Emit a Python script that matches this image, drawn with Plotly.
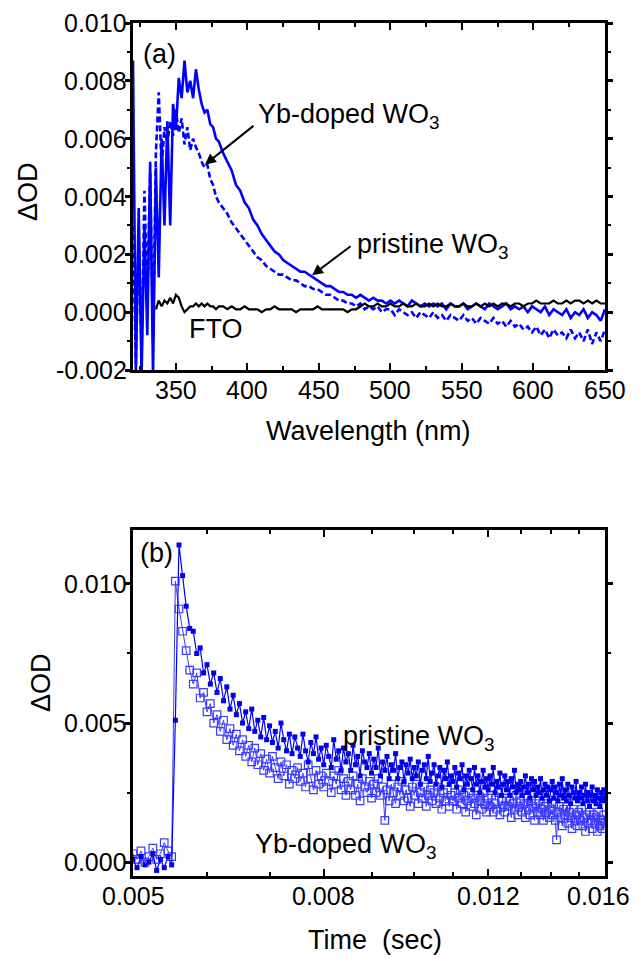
import math
import plotly.graph_objects as go

# ---------------- Panel (a): transient absorption spectra ----------------
wavelength_nm = [
    320, 322, 324, 326, 328, 330, 332, 334, 336, 338,
    340, 342, 344, 346, 348, 350, 352, 354, 356, 358,
    360, 362, 364, 366, 368, 370, 372, 374, 376, 378, 380,
    383, 386, 389, 392, 395, 398, 401, 404, 407, 410,
    413, 416, 419, 422, 425, 428, 431, 434, 437, 440,
    443, 446, 449, 452, 455, 458, 461, 464, 467, 470,
    473, 476, 479, 482, 485, 488, 491, 494, 497, 500,
    503, 506, 509, 512, 515, 518, 521, 524, 527, 530,
    533, 536, 539, 542, 545, 548, 551, 554, 557, 560,
    563, 566, 569, 572, 575, 578, 581, 584, 587, 590,
    593, 596, 599, 602, 605, 608, 611, 614, 617, 620,
    623, 626, 629, 632, 635, 638, 641, 644, 647, 650,
]

pristine_spec = [
    0.0087, -0.0021, 0.0036, -0.0022, 0.0030, -0.0008, 0.0052, -0.0022, 0.0050, 0.0012,
    0.0060, 0.0030, 0.0066, 0.0030, 0.0072, 0.0063, 0.0081, 0.0074, 0.0087, 0.0076,
    0.0080, 0.0074, 0.0084, 0.0077, 0.0072, 0.0069, 0.0070, 0.0065, 0.0064, 0.0060, 0.0059,
    0.0055, 0.0052, 0.0049, 0.0044, 0.0042, 0.0038, 0.0036, 0.0032, 0.0030, 0.0027,
    0.0025, 0.0023, 0.0021, 0.0020, 0.0018, 0.0017, 0.0016, 0.0015, 0.0014, 0.0014,
    0.0013, 0.0012, 0.0011, 0.0010, 0.0009, 0.0009, 0.0008, 0.0007, 0.0007, 0.0006,
    0.0006, 0.0005, 0.0006, 0.0005, 0.0004, 0.0005, 0.0004, 0.0004, 0.0003, 0.0004,
    0.0003, 0.0004, 0.0003, 0.0002, 0.0004, 0.0003, 0.0002, 0.0003, 0.0002, 0.0003,
    0.0002, 0.0003, 0.0001, 0.0003, 0.0002, 0.0002, 0.0003, 0.0001, 0.0002, 0.0003,
    0.0002, 0.0001, 0.0003, 0.0002, 0.0001, 0.0002, 0.0003, 0.0001, 0.0002, 0.0001,
    0.0002, 0.0000, 0.0002, 0.0001, 0.0000, 0.0002, -0.0001, 0.0001, 0.0000, -0.0001,
    0.0001, -0.0002, 0.0000, -0.0001, 0.0001, -0.0002, 0.0000, -0.0001, -0.0003, 0.0001,
]

yb_doped_spec = [
    0.0030, -0.0018, 0.0028, -0.0015, 0.0042, 0.0005, 0.0048, -0.0010, 0.0055, 0.0076,
    0.0050, 0.0064, 0.0058, 0.0066, 0.0061, 0.0070, 0.0062, 0.0067, 0.0058, 0.0064,
    0.0056, 0.0060, 0.0057, 0.0055, 0.0052, 0.0050, 0.0051, 0.0046, 0.0044, 0.0040, 0.0038,
    0.0036, 0.0034, 0.0031, 0.0029, 0.0027, 0.0025, 0.0023, 0.0021, 0.0019, 0.0018,
    0.0016, 0.0015, 0.0014, 0.0013, 0.0013, 0.0012, 0.0011, 0.0011, 0.0010, 0.0009,
    0.0009, 0.0008, 0.0008, 0.0007, 0.0006, 0.0006, 0.0005, 0.0004, 0.0004, 0.0003,
    0.0003, 0.0002, 0.0003, 0.0001, 0.0002, 0.0001, 0.0002, 0.0000, 0.0001, 0.0001,
    -0.0001, 0.0001, 0.0000, -0.0001, 0.0000, -0.0002, 0.0000, -0.0001, -0.0002, 0.0000,
    -0.0002, -0.0001, -0.0003, -0.0001, -0.0002, -0.0003, -0.0001, -0.0003, -0.0002, -0.0004,
    -0.0002, -0.0003, -0.0004, -0.0002, -0.0004, -0.0003, -0.0005, -0.0003, -0.0005, -0.0004,
    -0.0006, -0.0005, -0.0007, -0.0005, -0.0008, -0.0006, -0.0009, -0.0006, -0.0008, -0.0007,
    -0.0009, -0.0006, -0.0009, -0.0007, -0.0010, -0.0006, -0.0011, -0.0007, -0.0010, -0.0006,
]

fto_spec = [
    None, None, None, None, None, None, None, None, 0.0001, 0.0004,
    0.0002, 0.0004, 0.0003, 0.0005, 0.0003, 0.0006, 0.0005, 0.0002, 0.0000, 0.0001,
    0.0002, 0.0002, 0.0003, 0.0002, 0.0003, 0.0002, 0.0003, 0.0002, 0.0002, 0.0001, 0.0002,
    0.0002, 0.0001, 0.0002, 0.0001, 0.0001, 0.0002, 0.0001, 0.0001, 0.0001, 0.0000,
    0.0001, 0.0001, 0.0002, 0.0001, 0.0001, 0.0001, 0.0001, 0.0000, 0.0001, 0.0001,
    0.0001, 0.0001, 0.0002, 0.0001, 0.0001, 0.0001, 0.0001, 0.0001, 0.0001, 0.0000,
    0.0001, 0.0001, 0.0002, 0.0003, 0.0002, 0.0002, 0.0003, 0.0002, 0.0002, 0.0003,
    0.0002, 0.0002, 0.0003, 0.0002, 0.0002, 0.0003, 0.0002, 0.0002, 0.0003, 0.0002,
    0.0003, 0.0002, 0.0002, 0.0003, 0.0002, 0.0002, 0.0003, 0.0002, 0.0002, 0.0003,
    0.0002, 0.0003, 0.0002, 0.0003, 0.0002, 0.0003, 0.0003, 0.0002, 0.0003, 0.0003,
    0.0002, 0.0003, 0.0003, 0.0004, 0.0003, 0.0003, 0.0003, 0.0004, 0.0003, 0.0003,
    0.0004, 0.0003, 0.0004, 0.0004, 0.0003, 0.0004, 0.0003, 0.0004, 0.0003, 0.0003,
]

# ---------------- Panel (b): decay kinetics ----------------
time_s = [
    0.00500, 0.00505, 0.00510, 0.00515, 0.00520, 0.00525, 0.00530, 0.00535, 0.00540, 0.00545,
    0.00550, 0.00555, 0.00560, 0.00565, 0.00570, 0.00575, 0.00580, 0.00585, 0.00590, 0.00595,
    0.00600, 0.00605, 0.00610, 0.00615, 0.00620, 0.00625, 0.00630, 0.00635, 0.00640, 0.00645,
    0.00650, 0.00655, 0.00660, 0.00665, 0.00670, 0.00675, 0.00680, 0.00685, 0.00690, 0.00695,
    0.00700, 0.00705, 0.00710, 0.00715, 0.00720, 0.00725, 0.00730, 0.00735, 0.00740, 0.00745,
    0.00750, 0.00755, 0.00760, 0.00765, 0.00770, 0.00775, 0.00780, 0.00785, 0.00790, 0.00795,
    0.00800, 0.00805, 0.00810, 0.00815, 0.00820, 0.00825, 0.00830, 0.00835, 0.00840, 0.00845,
    0.00850, 0.00855, 0.00860, 0.00865, 0.00870, 0.00875, 0.00880, 0.00885, 0.00890, 0.00895,
    0.00900, 0.00905, 0.00910, 0.00915, 0.00920, 0.00925, 0.00930, 0.00935, 0.00940, 0.00945,
    0.00950, 0.00955, 0.00960, 0.00965, 0.00970, 0.00975, 0.00980, 0.00985, 0.00990, 0.00995,
    0.01000, 0.01005, 0.01010, 0.01015, 0.01020, 0.01025, 0.01030, 0.01035, 0.01040, 0.01045,
    0.01050, 0.01055, 0.01060, 0.01065, 0.01070, 0.01075, 0.01080, 0.01085, 0.01090, 0.01095,
    0.01100, 0.01105, 0.01110, 0.01115, 0.01120, 0.01125, 0.01130, 0.01135, 0.01140, 0.01145,
    0.01150, 0.01155, 0.01160, 0.01165, 0.01170, 0.01175, 0.01180, 0.01185, 0.01190, 0.01195,
    0.01200, 0.01205, 0.01210, 0.01215, 0.01220, 0.01225, 0.01230, 0.01235, 0.01240, 0.01245,
    0.01250, 0.01255, 0.01260, 0.01265, 0.01270, 0.01275, 0.01280, 0.01285, 0.01290, 0.01295,
    0.01300, 0.01305, 0.01310, 0.01315, 0.01320, 0.01325, 0.01330, 0.01335, 0.01340, 0.01345,
    0.01350, 0.01355, 0.01360, 0.01365, 0.01370, 0.01375, 0.01380, 0.01385, 0.01390, 0.01395,
    0.01400, 0.01405, 0.01410, 0.01415, 0.01420, 0.01425, 0.01430, 0.01435, 0.01440, 0.01445,
    0.01450, 0.01455, 0.01460, 0.01465, 0.01470, 0.01475, 0.01480, 0.01485, 0.01490, 0.01495,
    0.01500, 0.01505, 0.01510, 0.01515, 0.01520, 0.01525, 0.01530, 0.01535, 0.01540, 0.01545,
    0.01550, 0.01555, 0.01560, 0.01565, 0.01570, 0.01575, 0.01580, 0.01585, 0.01590, 0.01595,
    0.01600,
]

pristine_decay = [
    0.0001, -0.0002, 0.0002, -0.0001, 0.0000, 0.0003, -0.0003, 0.0001, -0.0002, 0.0002,
    -0.0001, 0.0051, 0.0114, 0.0103, 0.0092, 0.0084, 0.0083, 0.0075, 0.0077, 0.0068,
    0.0071, 0.0064, 0.0068, 0.0061, 0.0066, 0.0058, 0.0063, 0.0055, 0.0060, 0.0053,
    0.0057, 0.0050, 0.0054, 0.0048, 0.0055, 0.0047, 0.0051, 0.0045, 0.0052, 0.0044,
    0.0049, 0.0043, 0.0047, 0.0041, 0.0050, 0.0044, 0.0040, 0.0046, 0.0039, 0.0045,
    0.0041, 0.0038, 0.0046, 0.0040, 0.0036, 0.0043, 0.0039, 0.0045, 0.0037, 0.0041,
    0.0035, 0.0042, 0.0038, 0.0034, 0.0044, 0.0037, 0.0040, 0.0033, 0.0041, 0.0036,
    0.0039, 0.0033, 0.0042, 0.0035, 0.0038, 0.0031, 0.0040, 0.0036, 0.0034, 0.0039,
    0.0032, 0.0037, 0.0034, 0.0041, 0.0031, 0.0036, 0.0033, 0.0038, 0.0030, 0.0035,
    0.0033, 0.0039, 0.0030, 0.0034, 0.0036, 0.0029, 0.0035, 0.0032, 0.0037, 0.0030,
    0.0034, 0.0031, 0.0036, 0.0028, 0.0033, 0.0035, 0.0030, 0.0038, 0.0029, 0.0032,
    0.0035, 0.0028, 0.0031, 0.0034, 0.0027, 0.0033, 0.0030, 0.0036, 0.0028, 0.0031,
    0.0029, 0.0034, 0.0027, 0.0032, 0.0030, 0.0035, 0.0026, 0.0031, 0.0028, 0.0033,
    0.0030, 0.0026, 0.0034, 0.0028, 0.0031, 0.0025, 0.0029, 0.0033, 0.0027, 0.0030,
    0.0026, 0.0031, 0.0028, 0.0034, 0.0025, 0.0029, 0.0027, 0.0032, 0.0024, 0.0028,
    0.0031, 0.0026, 0.0029, 0.0024, 0.0030, 0.0027, 0.0033, 0.0025, 0.0028, 0.0026,
    0.0029, 0.0024, 0.0027, 0.0031, 0.0025, 0.0028, 0.0023, 0.0030, 0.0026, 0.0029,
    0.0024, 0.0027, 0.0025, 0.0030, 0.0023, 0.0026, 0.0028, 0.0024, 0.0027, 0.0022,
    0.0026, 0.0029, 0.0023, 0.0027, 0.0025, 0.0022, 0.0028, 0.0024, 0.0030, 0.0023,
    0.0026, 0.0022, 0.0028, 0.0024, 0.0021, 0.0027, 0.0025, 0.0023, 0.0029, 0.0022,
    0.0025, 0.0023, 0.0027, 0.0021, 0.0024, 0.0028, 0.0022, 0.0025, 0.0020, 0.0024,
    0.0027, 0.0022, 0.0024, 0.0021, 0.0026, 0.0023, 0.0020, 0.0025, 0.0022, 0.0026,
    0.0023,
]

yb_doped_decay = [
    0.0003, 0.0001, 0.0004, 0.0000, 0.0002, 0.0005, 0.0001, 0.0003, 0.0007, 0.0004,
    0.0002, 0.0101, 0.0091, 0.0083, 0.0076, 0.0069, 0.0064, 0.0068, 0.0059, 0.0061,
    0.0054, 0.0057, 0.0050, 0.0053, 0.0047, 0.0051, 0.0044, 0.0048, 0.0042, 0.0046,
    0.0040, 0.0044, 0.0038, 0.0042, 0.0036, 0.0041, 0.0035, 0.0039, 0.0033, 0.0037,
    0.0032, 0.0038, 0.0034, 0.0030, 0.0036, 0.0031, 0.0035, 0.0028, 0.0033, 0.0030,
    0.0034, 0.0029, 0.0032, 0.0027, 0.0035, 0.0030, 0.0026, 0.0033, 0.0028, 0.0031,
    0.0027, 0.0032, 0.0029, 0.0025, 0.0031, 0.0028, 0.0033, 0.0026, 0.0030, 0.0024,
    0.0029, 0.0026, 0.0031, 0.0024, 0.0028, 0.0022, 0.0030, 0.0027, 0.0025, 0.0029,
    0.0023, 0.0028, 0.0025, 0.0030, 0.0024, 0.0027, 0.0015, 0.0026, 0.0022, 0.0028,
    0.0025, 0.0021, 0.0027, 0.0024, 0.0029, 0.0022, 0.0026, 0.0023, 0.0020, 0.0027,
    0.0024, 0.0028, 0.0021, 0.0025, 0.0023, 0.0027, 0.0020, 0.0024, 0.0026, 0.0022,
    0.0025, 0.0021, 0.0027, 0.0023, 0.0019, 0.0025, 0.0022, 0.0026, 0.0020, 0.0024,
    0.0022, 0.0025, 0.0019, 0.0023, 0.0026, 0.0021, 0.0024, 0.0018, 0.0022, 0.0025,
    0.0020, 0.0023, 0.0021, 0.0017, 0.0024, 0.0022, 0.0019, 0.0025, 0.0021, 0.0018,
    0.0023, 0.0020, 0.0024, 0.0018, 0.0021, 0.0019, 0.0025, 0.0017, 0.0022, 0.0020,
    0.0018, 0.0023, 0.0020, 0.0022, 0.0016, 0.0021, 0.0019, 0.0024, 0.0017, 0.0020,
    0.0022, 0.0018, 0.0021, 0.0016, 0.0023, 0.0019, 0.0017, 0.0022, 0.0020, 0.0015,
    0.0021, 0.0018, 0.0022, 0.0017, 0.0019, 0.0015, 0.0020, 0.0018, 0.0021, 0.0016,
    0.0019, 0.0017, 0.0021, 0.0015, 0.0008, 0.0018, 0.0020, 0.0016, 0.0013, 0.0019,
    0.0017, 0.0020, 0.0014, 0.0018, 0.0016, 0.0012, 0.0019, 0.0015, 0.0017, 0.0013,
    0.0018, 0.0015, 0.0019, 0.0013, 0.0016, 0.0011, 0.0017, 0.0014, 0.0018, 0.0015,
    0.0012, 0.0017, 0.0014, 0.0016, 0.0011, 0.0018, 0.0013, 0.0015, 0.0012, 0.0017,
    0.0014,
]

# tick definitions
a_x_tickvals = [350, 400, 450, 500, 550, 600, 650]
a_x_ticktext = ["350", "400", "450", "500", "550", "600", "650"]
a_y_tickvals = [-0.002, 0.000, 0.002, 0.004, 0.006, 0.008, 0.010]
a_y_ticktext = ["-0.002", "0.000", "0.002", "0.004", "0.006", "0.008", "0.010"]
b_x_tickvals = [0.005, 0.008, 0.012, 0.016]
b_x_ticktext = ["0.005", "0.008", "0.012", "0.016"]
b_x_minor = [0.006, 0.007, 0.009, 0.010, 0.011, 0.013, 0.014, 0.015]
b_y_tickvals = [0.000, 0.005, 0.010]
b_y_ticktext = ["0.000", "0.005", "0.010"]
b_y_minor = [0.0025, 0.0075]

# page geometry (the page body adds an 8px margin around the figure)
OFF = 8
W, H = 639 - OFF, 959 - OFF
FONT = "Liberation Sans, Arial, sans-serif"
FS_TICK = 25
FS_TEXT = 27


def fx(p):
    return (p - OFF) / W


def fy(p):
    return 1 - (p - OFF) / H


BLUE = "#0000FF"
BLUE_OPEN = "#3B3BFF"

fig = go.Figure()

fig.add_trace(go.Scatter(x=wavelength_nm, y=yb_doped_spec, mode="lines",
                         line=dict(color=BLUE, width=2.6, dash="6px,3px"),
                         xaxis="x", yaxis="y", showlegend=False))
fig.add_trace(go.Scatter(x=wavelength_nm, y=pristine_spec, mode="lines",
                         line=dict(color=BLUE, width=2.6),
                         xaxis="x", yaxis="y", showlegend=False))
fig.add_trace(go.Scatter(x=wavelength_nm, y=fto_spec, mode="lines",
                         line=dict(color="black", width=2.2),
                         connectgaps=False,
                         xaxis="x", yaxis="y", showlegend=False))

fig.add_trace(go.Scatter(x=time_s, y=yb_doped_decay, mode="lines+markers",
                         line=dict(color=BLUE_OPEN, width=1),
                         marker=dict(symbol="square-open", size=7.5, color=BLUE_OPEN,
                                     line=dict(width=1.2, color=BLUE_OPEN)),
                         xaxis="x2", yaxis="y2", showlegend=False))
fig.add_trace(go.Scatter(x=time_s, y=pristine_decay, mode="lines+markers",
                         line=dict(color=BLUE, width=1.2),
                         marker=dict(symbol="square", size=5, color="#0000EE",
                                     line=dict(width=0)),
                         xaxis="x2", yaxis="y2", showlegend=False))

axis_common = dict(showline=True, linecolor="black", linewidth=3, mirror="allticks",
                   showgrid=False, zeroline=False, tickcolor="black", automargin=False,
                   showticklabels=False)

fig.update_layout(
    template="none",
    width=W, height=H,
    margin=dict(l=0, r=0, t=0, b=0, pad=0),
    paper_bgcolor="white", plot_bgcolor="white",
    font=dict(family=FONT, size=FS_TICK, color="black"),
    showlegend=False,
    xaxis=dict(domain=[fx(133), fx(605)], range=[320, 650], anchor="y",
               tickmode="array", tickvals=a_x_tickvals,
               ticks="inside", ticklen=7, tickwidth=2,
               minor=dict(dtick=25, tick0=0, ticks="inside", ticklen=4, tickwidth=2,
                          tickcolor="black"),
               **axis_common),
    yaxis=dict(domain=[fy(370), fy(23)], range=[-0.002, 0.010], anchor="x",
               tickmode="array", tickvals=a_y_tickvals,
               ticks="outside", ticklen=5, tickwidth=2.5,
               minor=dict(dtick=0.001, tick0=0, ticks="outside", ticklen=3, tickwidth=2,
                          tickcolor="black"),
               **axis_common),
    xaxis2=dict(domain=[fx(133), fx(605)], type="log",
                range=[math.log10(0.005), math.log10(0.016)], anchor="y2",
                tickmode="array", tickvals=b_x_tickvals,
                ticks="inside", ticklen=7, tickwidth=2,
                minor=dict(tickmode="array", tickvals=b_x_minor, ticks="inside",
                           ticklen=4, tickwidth=2, tickcolor="black"),
                **axis_common),
    yaxis2=dict(domain=[fy(876), fy(530)], range=[-0.0005, 0.01194], anchor="x2",
                tickmode="array", tickvals=b_y_tickvals,
                ticks="outside", ticklen=5, tickwidth=2.5,
                minor=dict(tickmode="array", tickvals=b_y_minor, ticks="outside",
                           ticklen=3, tickwidth=2, tickcolor="black"),
                **axis_common),
)

ann = []


def txt(text, x, y, xanchor="center", yanchor="middle", size=FS_TEXT, angle=0):
    ann.append(dict(text=text, x=fx(x), y=fy(y), xref="paper", yref="paper",
                    xanchor=xanchor, yanchor=yanchor, showarrow=False, textangle=angle,
                    font=dict(family=FONT, size=size, color="black")))


def tick_label(text, x, y, xref, yref, xanchor, xshift=0):
    ann.append(dict(text=text, x=x, y=y, xref=xref, yref=yref, xanchor=xanchor,
                    yanchor="middle", showarrow=False, borderpad=0, xshift=xshift,
                    font=dict(family=FONT, size=FS_TICK, color="black")))


# tick labels, placed through the axes' own scales
for v, t in zip(a_x_tickvals, a_x_ticktext):
    tick_label(t, v, fy(390), "x", "paper", "center")
for v, t in zip(a_y_tickvals, a_y_ticktext):
    tick_label(t, fx(128), v, "paper", "y", "right")
for v, t in zip(b_x_tickvals, b_x_ticktext):
    # the last label sits at the page edge; nudge it in so it is not clipped
    shift = -7 if v == b_x_tickvals[-1] else 0
    tick_label(t, math.log10(v), fy(896), "x2", "paper", "center", xshift=shift)
for v, t in zip(b_y_tickvals, b_y_ticktext):
    tick_label(t, fx(128), v, "paper", "y2", "right")

# panel (a) labels
txt("(a)", 141, 54, xanchor="left")
txt("Yb-doped WO<sub>3</sub>", 256, 116, xanchor="left")
txt("pristine WO<sub>3</sub>", 355, 246, xanchor="left")
txt("FTO", 187, 329, xanchor="left")
txt("Wavelength (nm)", 369, 431)
txt("\u0394OD", 28, 192, angle=-90)

# panel (b) labels
txt("(b)", 138, 553, xanchor="left")
txt("pristine WO<sub>3</sub>", 341, 738, xanchor="left")
txt("Yb-doped WO<sub>3</sub>", 253, 846, xanchor="left")
txt("Time  (sec)", 375, 940)
txt("\u0394OD", 41, 683, angle=-90)

# arrows
ann.append(dict(text="", x=370.3, y=0.0051, xref="x", yref="y", showarrow=True,
                ax=50, ay=-40, arrowhead=2, arrowsize=1.1, arrowwidth=2,
                arrowcolor="black", standoff=0))
ann.append(dict(text="", x=445.2, y=0.00128, xref="x", yref="y", showarrow=True,
                ax=40, ay=-30, arrowhead=2, arrowsize=1.1, arrowwidth=2,
                arrowcolor="black", standoff=0))

fig.update_layout(annotations=ann)

fig.write_html("out.html")
